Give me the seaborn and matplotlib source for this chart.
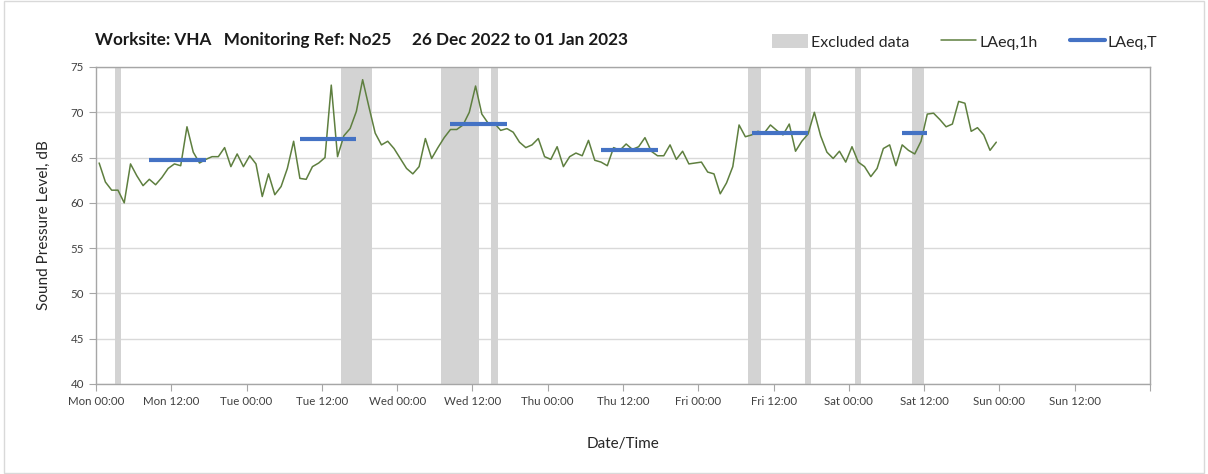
import numpy as np
import pandas as pd
import seaborn as sns
import matplotlib.pyplot as plt
import matplotlib.dates as mdates
from matplotlib.patches import Patch, Rectangle
from matplotlib.lines import Line2D

# hourly LAeq,1h values, Mon 26 Dec 2022 onwards (one per hour)
laeq_1h = [64.4, 62.3, 61.4, 61.4, 60.0, 64.3, 63.0, 61.9, 62.6, 62.0,
           62.8, 63.8, 64.3, 64.1, 68.4, 65.6, 64.4, 64.8, 65.1, 65.1,
           66.1, 64.0, 65.4, 64.0, 65.2, 64.3, 60.7, 63.2, 60.9, 61.8,
           63.8, 66.8, 62.7, 62.6, 64.0, 64.4, 65.0, 73.0, 65.1, 67.4,
           68.2, 70.1, 73.6, 70.6, 67.7, 66.4, 66.8, 66.0, 64.9, 63.8,
           63.2, 64.0, 67.1, 64.9, 66.1, 67.2, 68.1, 68.1, 68.6, 70.0,
           72.9, 69.8, 68.8, 68.8, 68.0, 68.2, 67.8, 66.7, 66.1, 66.4,
           67.1, 65.1, 64.8, 66.2, 64.0, 65.1, 65.5, 65.2, 66.9, 64.7,
           64.5, 64.1, 66.1, 65.8, 66.5, 65.9, 66.2, 67.2, 65.7, 65.2,
           65.2, 66.4, 64.8, 65.7, 64.3, 64.4, 64.5, 63.4, 63.2, 61.0,
           62.2, 64.0, 68.6, 67.3, 67.5, 67.9, 67.7, 68.6, 68.0, 67.5,
           68.7, 65.7, 66.8, 67.6, 70.0, 67.4, 65.6, 64.9, 65.7, 64.5,
           66.2, 64.5, 64.0, 62.9, 63.8, 66.0, 66.4, 64.1, 66.4, 65.8,
           65.4, 66.8, 69.8, 69.9, 69.2, 68.4, 68.7, 71.2, 71.0, 67.9,
           68.3, 67.5, 65.8, 66.7]

# daytime LAeq,T periods (hours from Mon 00:00)
period_start = [8.5, 32.5, 56.5, 80.5, 104.5, 128.5]
period_end = [17.5, 41.5, 65.5, 89.5, 113.5, 132.5]
period_level = [64.7, 67.0, 68.7, 65.8, 67.7, 67.7]

# excluded data windows (hours from Mon 00:00)
excl_start = [3, 39, 55, 63, 104, 113, 121, 130]
excl_end = [4, 44, 61, 64, 106, 114, 122, 132]

t0 = pd.Timestamp('2022-12-26 00:00')
hrs = lambda h: t0 + pd.to_timedelta(h, unit='h')

df = pd.DataFrame({'time': pd.date_range(t0 + pd.Timedelta(minutes=30), periods=len(laeq_1h), freq='h'),
                   'level': laeq_1h})

sns.set_style('white')
plt.rcParams['font.family'] = ['Lato', 'DejaVu Sans']

fig = plt.figure(figsize=(12.08, 4.74), dpi=100)
ax = fig.add_axes([96/1208, 1 - 384/474, (1150 - 96)/1208, (384 - 67)/474])

for s, e in zip(excl_start, excl_end):
    ax.axvspan(hrs(s), hrs(e), color='#D3D3D3', lw=0, zorder=1)

sns.lineplot(data=df, x='time', y='level', ax=ax, color='#5E7F3F', lw=1.1, zorder=3)

for s, e, lv in zip(period_start, period_end, period_level):
    ax.plot([hrs(s), hrs(e)], [lv, lv], color='#4472C4', lw=3, solid_capstyle='butt', zorder=4)

x_end = mdates.date2num(hrs(168))
ax.set_xlim(hrs(0), hrs(168))
ax.set_ylim(40, 75)
ax.set_yticks(range(40, 80, 5))
ax.xaxis.set_major_locator(mdates.HourLocator(byhour=[0, 12]))
fmt = mdates.DateFormatter('%a %H:%M')
ax.xaxis.set_major_formatter(lambda v, pos: '' if abs(v - x_end) < 1e-6 else fmt(v, pos))
ax.xaxis.set_minor_locator(mdates.DayLocator())
ax.grid(axis='y', color='#D9D9D9', lw=1, zorder=0)
ax.grid(axis='x', which='minor', color='#D9D9D9', lw=1, zorder=0)
ax.set_axisbelow(True)
ax.tick_params(axis='both', which='major', direction='out', length=5, color='#A6A6A6',
               labelsize=8.3, labelcolor='#404040', bottom=True, left=True)
ax.tick_params(axis='x', which='minor', length=0)
for sp in ax.spines.values():
    sp.set_color('#A6A6A6')
    sp.set_linewidth(1)

ax.set_xlabel('Date/Time', fontsize=11, color='#262626', labelpad=22)
ax.set_ylabel('Sound Pressure Level, dB', fontsize=11, color='#262626', labelpad=14)

fig.text(95/1208, 1 - 40/474, 'Worksite: VHA   Monitoring Ref: No25     26 Dec 2022 to 01 Jan 2023',
         fontsize=12.3, fontweight='bold', va='center', ha='left', color='#1a1a1a')

handles = [Patch(facecolor='#D3D3D3', edgecolor='none'),
           Line2D([], [], color='#5E7F3F', lw=1.1),
           Line2D([], [], color='#4472C4', lw=3)]
fig.legend(handles, ['Excluded data', 'LAeq,1h', 'LAeq,T'], loc='center right',
           bbox_to_anchor=(1172/1208, 1 - 42/474), ncol=3, frameon=False, fontsize=11.5,
           handlelength=2.2, handletextpad=0.2, columnspacing=2.0, handleheight=0.9)

fig.patches.append(Rectangle((0.003, 0.003), 0.994, 0.994, transform=fig.transFigure,
                             fill=False, edgecolor='#D9D9D9', lw=1))

plt.savefig('out.png', dpi=100)
